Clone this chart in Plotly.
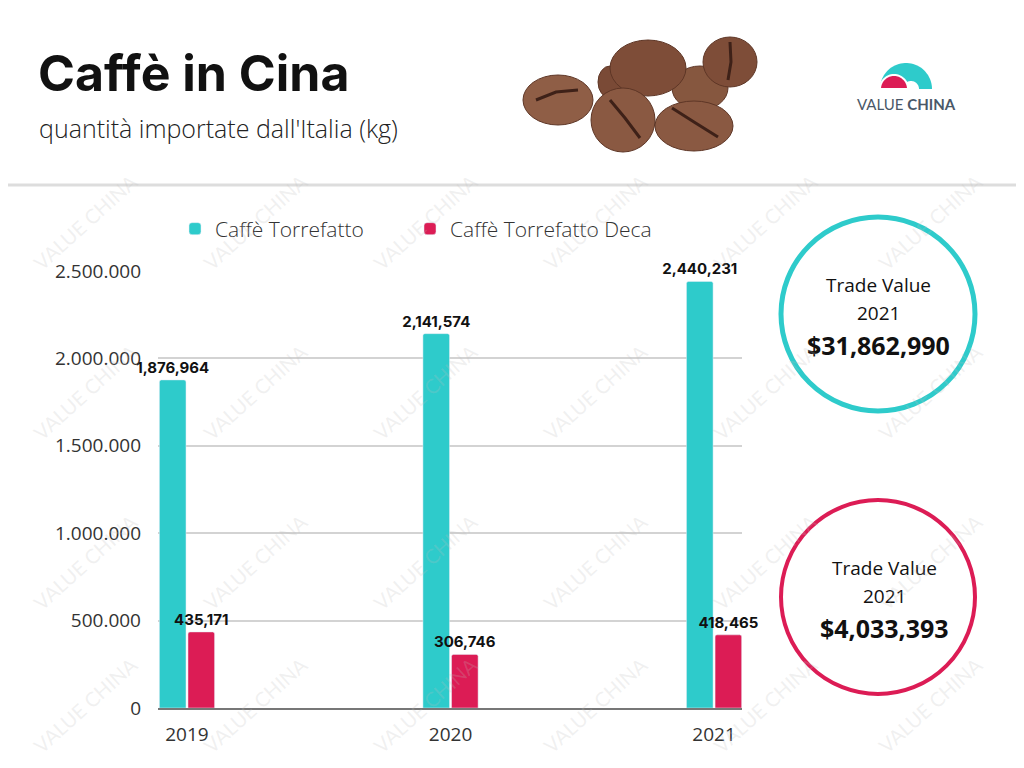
import numpy as np
import plotly.graph_objects as go

# ---- data ----
anni = ["2019", "2020", "2021"]
torrefatto = [1876964, 2141574, 2440231]
torrefatto_deca = [435171, 306746, 418465]
y_ticks = [0, 500000, 1000000, 1500000, 2000000, 2500000]
y_tick_labels = ["0", "500.000", "1.000.000", "1.500.000", "2.000.000", "2.500.000"]
trade_value_torrefatto = "$31,862,990"
trade_value_deca = "$4,033,393"
anno_trade = "2021"

TEAL = "#2ECBCB"
RED = "#DC1C55"

# the page body adds an 8px margin, so the figure is 16px smaller
OFF = 8
# plot area in page pixels (1024x768 window)
L, R, T, B = 158, 742, 271, 708
W, H = R - L, B - T


def fx(p):
    return (p - L) / W


def fy(p):
    return (B - p) / H


label_font = dict(family="Inter", size=15, color="#111", weight="bold")

fig = go.Figure()
fig.add_trace(go.Bar(
    x=anni, y=torrefatto, name="Caffè Torrefatto", legend="legend",
    marker=dict(color=TEAL, cornerradius=2),
    text=[f"{v:,}" for v in torrefatto], textposition="outside",
    textfont=label_font, constraintext="none", cliponaxis=False,
))
fig.add_trace(go.Bar(
    x=anni, y=torrefatto_deca, name="Caffè Torrefatto Deca", legend="legend2",
    marker=dict(color=RED, cornerradius=2),
    text=[f"{v:,}" for v in torrefatto_deca], textposition="outside",
    textfont=label_font, constraintext="none", cliponaxis=False,
))

shapes = []
annotations = []

# header separator
shapes.append(dict(type="line", xref="paper", yref="paper",
                   x0=fx(0), x1=fx(1024), y0=fy(185), y1=fy(185),
                   line=dict(color="#dddddd", width=3), layer="below"))

# coffee beans (rough drawing of the photo)
beans = [  # cx, cy, rx, ry, colour
    (610, 82, 12, 16, "#7a4a36"),
    (700, 88, 28, 22, "#86573f"),
    (648, 68, 38, 28, "#7e4d38"),
    (558, 100, 35, 25, "#8f5e46"),
    (623, 120, 32, 32, "#8a5942"),
    (694, 126, 39, 25, "#8a5942"),
    (730, 62, 27, 25, "#7e4d38"),
]
for cx, cy, rx, ry, col in beans:
    shapes.append(dict(type="circle", xref="paper", yref="paper",
                       x0=fx(cx - rx), x1=fx(cx + rx), y0=fy(cy + ry), y1=fy(cy - ry),
                       fillcolor=col, line=dict(color="#5e3626", width=1)))
creases = [
    [(536, 100), (556, 92), (578, 90)],
    [(610, 100), (625, 118), (640, 138)],
    [(672, 108), (694, 122), (718, 137)],
    [(730, 42), (731, 62), (728, 80)],
]
for pts in creases:
    path = "M " + " L ".join(f"{fx(a)},{fy(b)}" for a, b in pts)
    shapes.append(dict(type="path", xref="paper", yref="paper", path=path,
                       line=dict(color="#3e2118", width=3)))


def half_disk(cx, cy, r, n=40):
    ang = np.linspace(np.pi, 0, n)
    pts = [(cx + r * np.cos(a), cy - r * np.sin(a)) for a in ang]
    return "M " + " L ".join(f"{fx(a)},{fy(b)}" for a, b in pts) + " Z"


# logo
shapes.append(dict(type="path", xref="paper", yref="paper", path=half_disk(906, 89, 26),
                   fillcolor=TEAL, line=dict(width=0)))
shapes.append(dict(type="path", xref="paper", yref="paper", path=half_disk(911, 89, 8),
                   fillcolor="white", line=dict(width=0)))
shapes.append(dict(type="path", xref="paper", yref="paper", path=half_disk(894, 89, 14),
                   fillcolor=RED, line=dict(color="white", width=2)))
annotations.append(dict(xref="paper", yref="paper", x=fx(906), y=fy(104),
                        xanchor="center", yanchor="middle",
                        text="VALUE <b>CHINA</b>", showarrow=False,
                        font=dict(family="Lato", size=15, color="#4a5868")))

# circles
for cy, col, lw in [(314, TEAL, 5), (597, RED, 4)]:
    shapes.append(dict(type="circle", xref="paper", yref="paper",
                       x0=fx(878 - 97), x1=fx(878 + 97), y0=fy(cy + 97), y1=fy(cy - 97),
                       line=dict(color=col, width=lw), fillcolor="rgba(0,0,0,0)"))

for cx, cy, val in [(878, 314, trade_value_torrefatto), (884, 597, trade_value_deca)]:
    for dy, txt, size in [(-29, "Trade Value", 19), (-1, anno_trade, 19), (31, f"<b>{val}</b>", 25)]:
        annotations.append(dict(xref="paper", yref="paper", x=fx(cx), y=fy(cy + dy),
                                xanchor="center", yanchor="middle",
                                text=txt, showarrow=False,
                                font=dict(family="Open Sans", size=size, color="#111")))

# titles
annotations.append(dict(xref="paper", yref="paper", x=fx(36), y=fy(73),
                        xanchor="left", yanchor="middle", showarrow=False,
                        text="<b>Caffè in Cina</b>",
                        font=dict(family="Inter", size=50, color="#111")))
annotations.append(dict(xref="paper", yref="paper", x=fx(37), y=fy(128),
                        xanchor="left", yanchor="middle", showarrow=False,
                        text="quantità importate dall'Italia (kg)",
                        font=dict(family="Open Sans", size=25, color="#222", weight=300)))

# watermark
for wy in [222, 392, 562, 705]:
    for wx in [85, 255, 425, 595, 765, 930]:
        annotations.append(dict(xref="paper", yref="paper", x=fx(wx), y=fy(wy),
                                xanchor="center", yanchor="middle",
                                text="VALUE CHINA", textangle=-42, showarrow=False,
                                font=dict(family="Lato", size=20, color="rgba(190,190,190,0.22)")))

axis_font = dict(family="Open Sans", size=19, color="#333")
legend_style = dict(orientation="h", y=fy(229), xanchor="left", yanchor="middle",
                    font=dict(family="Open Sans", size=21, color="#333", weight=300),
                    itemwidth=30, bgcolor="rgba(0,0,0,0)")

fig.update_layout(
    width=1024 - 2 * OFF, height=768 - 2 * OFF,
    margin=dict(l=L - OFF, r=1024 - OFF - R, t=T - OFF, b=768 - OFF - B),
    paper_bgcolor="white", plot_bgcolor="white",
    barmode="group", bargap=0.783, bargroupgap=0.07,
    showlegend=True,
    legend=dict(x=fx(175), **legend_style),
    legend2=dict(x=fx(410), **legend_style),
    xaxis=dict(type="category", range=[-0.11, 2.106], showgrid=False,
               showline=True, linecolor="#777", linewidth=1.5, ticks="",
               tickfont=axis_font, ticklabelstandoff=8, fixedrange=True),
    yaxis=dict(range=[0, 2500000], tickvals=y_ticks, ticktext=y_tick_labels,
               showgrid=True, gridcolor="#d3d3d3", gridwidth=1.5,
               zeroline=False, showline=False, ticks="",
               tickfont=axis_font, ticklabelstandoff=16),
    shapes=shapes, annotations=annotations,
)

fig.write_html("out.html")
